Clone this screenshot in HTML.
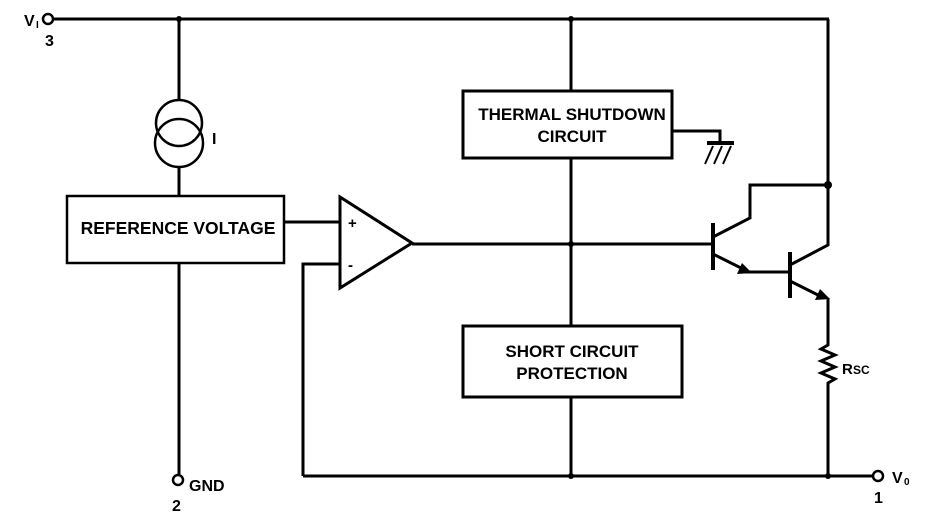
<!DOCTYPE html>
<html><head><meta charset="utf-8"><style>
html,body{margin:0;padding:0;background:#fff;}
svg{display:block;}
text{font-family:"Liberation Sans",Arial,sans-serif;font-weight:bold;fill:#000;}
</style></head><body>
<svg width="929" height="517" viewBox="0 0 929 517" xmlns="http://www.w3.org/2000/svg">
<g stroke="#000" stroke-width="3" fill="none" stroke-linejoin="miter">
<line x1="54" y1="19" x2="829" y2="19"/>
<circle cx="48" cy="19" r="5" stroke-width="2.5"/>
<line x1="179" y1="19" x2="179" y2="101"/>
<circle cx="179" cy="123" r="23" stroke-width="2.5"/>
<circle cx="179" cy="143" r="24" stroke-width="2.5"/>
<line x1="179" y1="167" x2="179" y2="196"/>
<rect x="67" y="196" width="217" height="67" stroke-width="2.5"/>
<line x1="179" y1="263" x2="179" y2="474"/>
<circle cx="178" cy="480" r="5" stroke-width="2.5"/>
<line x1="571" y1="19" x2="571" y2="91"/>
<rect x="463" y="91" width="209" height="67" stroke-width="3"/>
<line x1="571" y1="158" x2="571" y2="326"/>
<rect x="463" y="326" width="219" height="71" stroke-width="3"/>
<line x1="571" y1="397" x2="571" y2="476"/>
<polyline points="672,131 720,131 720,143"/>
<line x1="707" y1="143" x2="734" y2="143" stroke-width="4"/>
<line x1="713" y1="146" x2="705" y2="164" stroke-width="2"/>
<line x1="722" y1="146" x2="714" y2="164" stroke-width="2"/>
<line x1="731" y1="146" x2="723" y2="164" stroke-width="2"/>
<line x1="303" y1="476" x2="872" y2="476"/>
<circle cx="878" cy="476" r="5" stroke-width="2.5"/>
<polygon points="340,197 340,288 412,243"/>
<line x1="284" y1="222" x2="340" y2="222"/>
<polyline points="340,264 303,264 303,476"/>
<line x1="412" y1="244" x2="713" y2="244"/>
<line x1="713" y1="223" x2="713" y2="270" stroke-width="4"/>
<polyline points="713,237 750,218 750,185 828,185"/>
<line x1="713" y1="254" x2="745" y2="270"/>
<line x1="745" y1="272" x2="790" y2="272"/>
<line x1="790" y1="252" x2="790" y2="298" stroke-width="4"/>
<polyline points="790,265 828,245 828,19"/>
<line x1="790" y1="281" x2="822" y2="297"/>
<polyline points="828,298 828,345 821,349 835,355 821,361 835,367 821,373 835,379 828,383 828,476"/>
</g>
<g fill="#000">
<polygon points="752,273 737,274 742,263"/>
<polygon points="830,299 815,300 820,289"/>
<circle cx="179" cy="19" r="3"/>
<circle cx="571" cy="19" r="3"/>
<circle cx="828" cy="185" r="4"/>
<circle cx="571" cy="244" r="3"/>
<circle cx="571" cy="476" r="3"/>
<circle cx="828" cy="476" r="3"/>
</g>
<text x="24" y="26" font-size="16">V</text><text x="36" y="28" font-size="10">I</text>
<text x="45" y="46" font-size="16">3</text>
<text x="212" y="144" font-size="16" font-weight="normal">I</text>
<text x="178" y="234" font-size="17.5" text-anchor="middle">REFERENCE VOLTAGE</text>
<text x="572" y="120" font-size="17" text-anchor="middle">THERMAL SHUTDOWN</text>
<text x="572" y="142" font-size="17" text-anchor="middle">CIRCUIT</text>
<text x="572" y="357" font-size="17" text-anchor="middle">SHORT CIRCUIT</text>
<text x="572" y="379" font-size="17" text-anchor="middle">PROTECTION</text>
<text x="348" y="228" font-size="15" font-weight="normal">+</text>
<text x="348" y="270" font-size="15" font-weight="normal">-</text>
<text x="842" y="374" font-size="15" font-weight="normal">R</text><text x="853" y="374" font-size="12" font-weight="normal">SC</text>
<text x="189" y="491" font-size="16">GND</text>
<text x="172" y="511" font-size="16">2</text>
<text x="892" y="483" font-size="16">V</text><text x="904" y="485" font-size="10">0</text>
<text x="874" y="503" font-size="16">1</text>
</svg>
</body></html>
